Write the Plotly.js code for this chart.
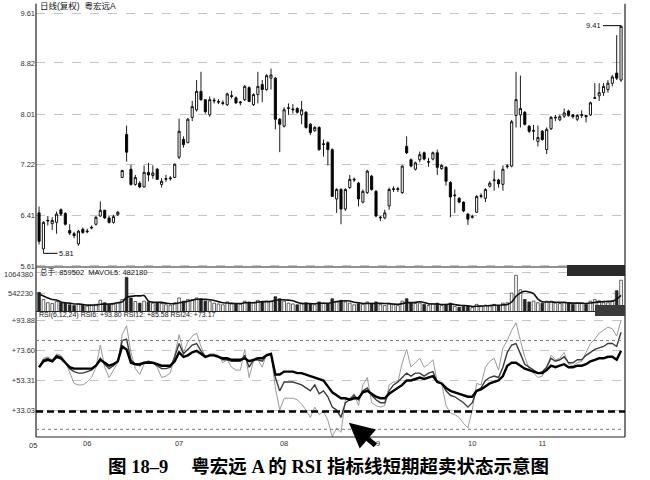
<!DOCTYPE html>
<html><head><meta charset="utf-8">
<script src="https://cdn.plot.ly/plotly-3.0.1.min.js"></script>
<style>body{margin:0;background:#fff}</style>
</head><body><div id="chart" style="width:650px;height:480px"></div>
<script>
// ---- data ----
const openP  = [6.45,5.88,6.32,6.28,6.30,6.50,6.44,6.17,6.12,5.96,6.19,6.15,6.21,6.27,6.40,6.49,6.37,6.30,6.42,7.01,
7.69,7.14,6.90,6.92,6.86,7.09,7.04,7.14,6.90,6.98,6.99,7.01,7.33,7.61,7.56,7.96,8.08,8.37,8.24,8.00,
8.22,8.20,8.18,8.16,8.29,8.27,8.19,8.24,8.43,8.16,8.32,8.48,8.40,8.58,8.58,7.93,7.82,8.10,8.08,8.10,
8.00,8.04,7.85,7.75,7.80,7.53,7.56,7.45,6.67,6.82,6.51,6.85,6.97,6.92,6.62,6.77,7.03,6.79,6.37,6.37,
6.56,6.82,6.82,6.77,7.50,7.29,7.14,7.29,7.40,7.25,7.30,7.40,7.15,7.17,6.93,6.72,6.68,6.62,6.43,6.38,
6.46,6.71,6.68,6.87,6.96,6.97,6.90,7.18,7.19,7.99,8.00,8.04,7.82,7.74,7.58,7.74,7.45,7.78,7.95,7.92,
7.98,8.06,8.00,7.93,7.99,7.99,8.00,8.26,8.30,8.35,8.40,8.50,8.66,8.55];
const highP  = [6.55,6.32,6.40,6.38,6.47,6.52,6.46,6.27,6.15,6.18,6.22,6.20,6.25,6.40,6.63,6.50,6.40,6.42,6.48,7.13,
7.83,7.21,7.05,6.95,7.20,7.24,7.20,7.16,7.00,7.05,7.03,7.23,7.94,7.66,7.95,8.22,8.55,8.68,8.25,8.29,
8.27,8.25,8.23,8.35,8.38,8.29,8.22,8.47,8.45,8.34,8.68,8.55,8.64,8.73,8.60,7.95,8.12,8.18,8.17,8.12,
8.22,8.06,7.87,7.82,7.82,7.61,7.58,7.47,6.84,6.84,6.84,7.05,7.01,6.94,6.82,7.13,7.05,6.81,6.40,6.50,
6.85,6.87,6.86,7.20,7.66,7.31,7.26,7.42,7.42,7.32,7.42,7.45,7.22,7.19,6.95,6.82,6.70,6.63,6.45,6.42,
6.73,6.76,6.84,6.95,7.12,6.99,7.20,7.22,7.92,8.68,8.62,8.06,7.84,7.84,7.83,7.76,7.80,7.98,8.00,8.00,
8.10,8.08,8.01,8.01,8.07,8.00,8.21,8.50,8.50,8.50,8.55,8.63,9.26,9.41];
const lowP   = [5.95,5.81,6.25,6.18,6.12,6.40,6.25,6.10,6.05,5.93,6.12,6.13,6.19,6.25,6.39,6.35,6.28,6.28,6.40,7.00,
7.26,6.88,6.88,6.84,6.85,6.95,6.99,6.97,6.85,6.94,6.96,7.00,7.30,7.48,7.55,7.90,8.05,8.22,8.02,7.97,
8.18,8.17,8.15,8.14,8.26,8.17,8.15,8.22,8.20,8.14,8.18,8.20,8.38,8.40,7.77,7.41,7.80,8.00,8.02,8.02,
7.85,7.78,7.68,7.73,7.43,7.34,7.20,6.70,6.45,6.27,6.48,6.83,6.94,6.55,6.60,6.75,6.80,6.38,6.32,6.35,
6.50,6.78,6.78,6.75,7.38,7.17,7.12,7.25,7.28,7.18,7.28,7.05,7.13,6.88,6.38,6.45,6.60,6.46,6.26,6.36,
6.45,6.68,6.62,6.85,6.80,6.85,6.80,7.15,7.17,7.80,7.80,7.83,7.71,7.60,7.50,7.59,7.38,7.76,7.90,7.90,
7.95,7.97,7.94,7.90,7.95,7.88,7.98,8.25,8.22,8.30,8.35,8.45,8.55,8.52];
const closeP = [6.00,6.30,6.33,6.33,6.43,6.43,6.27,6.13,6.09,6.16,6.14,6.16,6.22,6.38,6.49,6.37,6.30,6.39,6.46,7.12,
7.41,6.90,7.01,6.86,7.09,7.05,7.08,6.98,6.95,6.99,7.00,7.22,7.74,7.53,7.93,8.13,8.37,8.24,8.05,8.24,
8.23,8.21,8.19,8.33,8.30,8.19,8.20,8.45,8.21,8.32,8.45,8.40,8.62,8.63,7.93,7.85,8.08,8.11,8.09,8.04,
8.08,7.80,7.72,7.80,7.45,7.54,7.45,6.71,6.82,6.51,6.82,6.98,6.98,6.67,6.79,7.11,6.82,6.40,6.38,6.45,
6.82,6.83,6.83,7.19,7.40,7.19,7.24,7.37,7.30,7.26,7.40,7.17,7.20,6.95,6.70,6.73,6.62,6.48,6.35,6.39,
6.71,6.72,6.82,6.92,6.97,6.91,7.14,7.19,7.89,8.24,8.10,7.85,7.74,7.75,7.64,7.61,7.77,7.96,7.96,7.97,
8.03,7.99,7.97,7.99,8.00,7.97,8.19,8.27,8.35,8.45,8.50,8.60,8.58,9.40];
// volume (thousand shares)
const volumeK = [560,380,300,280,330,300,290,250,230,270,240,220,230,260,360,300,260,270,300,380,
930,420,330,290,340,320,290,310,280,250,240,300,420,340,380,380,420,400,340,340,
290,270,250,320,290,280,260,340,320,300,360,320,340,340,450,400,340,290,270,250,
290,300,280,250,320,290,280,400,340,360,320,290,250,280,260,320,290,320,250,230,
290,250,230,340,400,300,280,290,260,230,280,290,230,260,290,210,190,210,230,180,
260,210,240,230,260,230,290,300,540,980,620,380,320,340,300,290,340,340,290,280,
320,300,260,290,280,260,340,380,350,300,300,350,600,859.502];
const mavol5K = [520,470,420,380,370,318,296,290,270,268,256,242,240,244,262,266,270,278,298,322,
432,460,472,470,480,340,314,310,308,290,276,276,300,312,336,364,388,384,384,376,
358,328,298,294,284,282,280,298,300,300,316,328,328,332,362,374,374,364,350,310,
280,282,278,274,288,288,284,308,326,340,350,342,314,300,282,284,280,286,284,282,
276,268,264,278,302,304,310,324,306,272,268,270,258,258,270,256,236,232,226,206,
214,216,224,228,242,236,246,256,318,462,546,584,568,528,392,326,318,318,312,310,
306,298,290,290,290,282,292,310,322,328,336,336,390,482.18];
const rsi6 = [62,68,69,67,71,70,66,58,51,50,50,52,55,62,77,62,55,60,65,84,
90,72,61,57,64,66,65,62,55,56,58,70,84,72,79,83,85,76,69,71,
71,70,65,67,62,60,60,74,55,66,67,62,71,71,48,33,41,41,41,40,
37,33,28,35,30,32,26,15,21,18,40,41,44,36,50,55,38,36,35,36,
50,52,52,65,74,62,65,68,62,64,67,52,51,36,31,30,28,24,21,33,
51,50,62,66,68,60,75,80,87,92,80,69,61,58,55,56,62,70,67,68,
72,64,63,65,66,72,78,81,85,87,89,88,83,93.80];
const rsi12 = [62,67,68,66,70,69,65,61,59,58,58,59,60,63,68,64,61,63,66,80,
81,67,64,63,65,66,65,63,61,61,62,69,78,71,74,77,78,73,69,70,
70,69,67,67,66,66,66,70,62,67,67,66,70,71,55,46,52,52,52,51,
50,48,46,50,44,46,42,35,33,28,38,40,43,40,46,48,43,40,38,38,
46,50,52,55,58,56,58,58,56,58,59,52,51,46,43,42,40,38,35,38,
46,48,53,55,56,55,62,72,77,78,71,64,62,60,58,59,62,68,66,67,
69,65,65,67,67,70,72,74,75,76,78,78,76,85.58];
const rsi24 = [62,66,67,66,69,68,65,62,61,61,61,61,61,63,67,65,63,64,66,76,
74,65,64,64,65,65,65,64,63,63,63,66,72,69,70,72,73,71,69,70,
70,69,68,68,67,67,67,68,66,67,68,68,70,71,57,57,59,59,59,58,
58,57,56,55,54,53,49,45,43,41,41,40,41,41,45,46,44,42,41,41,
44,46,48,50,53,53,54,55,54,55,56,52,51,48,46,45,44,43,42,42,
46,47,49,51,52,53,56,63,65,65,63,61,60,59,58,58,60,63,62,63,
64,62,62,63,63,64,66,67,68,68,69,69,67,73.17];
const monthTickIdx = [11, 32, 56, 77, 99, 115];
const monthLabels  = ['06','07','08','09','10','11'];
const priceTicks = [5.61, 6.41, 7.22, 8.01, 8.82, 9.61];
const volTicks   = [542230, 1064380];
const rsiTicks   = [33.03, 53.31, 73.60, 93.88];

// ---- build ----
const idx = openP.map((_, i) => i);
const up = closeP.map((c, i) => c >= openP[i]);
const volume = volumeK.map(v => v * 1000);
const mavol5 = mavol5K.map(v => v * 1000);
const SANS = 'Liberation Sans, Arial, sans-serif';
const CJK = 'Liberation Sans, Noto Sans CJK SC, sans-serif';

const traces = [
  { type: 'candlestick', x: idx, open: openP, high: highP, low: lowP, close: closeP,
    xaxis: 'x', yaxis: 'y', whiskerwidth: 0,
    increasing: { line: { color: '#000', width: 0.9 }, fillcolor: '#fff' },
    decreasing: { line: { color: '#000', width: 0.9 }, fillcolor: '#000' },
    hoverinfo: 'skip', showlegend: false },
  { type: 'bar', x: idx, y: volume, xaxis: 'x', yaxis: 'y2', width: 0.62,
    marker: { color: up.map(u => u ? '#fff' : '#222'), line: { color: '#222', width: 0.7 } },
    hoverinfo: 'skip', showlegend: false },
  { type: 'scatter', mode: 'lines', x: idx, y: mavol5, xaxis: 'x', yaxis: 'y2',
    line: { color: '#111', width: 1.6, shape: 'spline', smoothing: 0.8 }, hoverinfo: 'skip', showlegend: false },
  { type: 'scatter', mode: 'lines', x: idx, y: rsi6, xaxis: 'x', yaxis: 'y3',
    line: { color: '#9a9a9a', width: 1 }, hoverinfo: 'skip', showlegend: false },
  { type: 'scatter', mode: 'lines', x: idx, y: rsi12, xaxis: 'x', yaxis: 'y3',
    line: { color: '#3a3a3a', width: 1.4 }, hoverinfo: 'skip', showlegend: false },
  { type: 'scatter', mode: 'lines', x: idx, y: rsi24, xaxis: 'x', yaxis: 'y3',
    line: { color: '#000', width: 2.4 }, hoverinfo: 'skip', showlegend: false }
];

const tickFont = { family: SANS, size: 7.5, color: '#333' };
const gridCommon = { showgrid: true, gridcolor: '#c4c4c4', griddash: 'dash', gridwidth: 1,
  zeroline: false, showline: false, ticks: '', tickfont: tickFont, fixedrange: true };

// panel pixel layout: plot top 8, bottom 437 (height 429)
const H = 429;
const py = p => (437 - p) / H;
const px = p => (p - 36) / 589;

const layout = {
  width: 650, height: 480,
  margin: { l: 36, r: 25, t: 8, b: 43 },
  paper_bgcolor: '#fff', plot_bgcolor: '#fff',
  showlegend: false,
  xaxis: { range: [-0.7, 133.9], anchor: 'y3', tickvals: monthTickIdx, ticktext: monthLabels,
    showgrid: false, zeroline: false, showline: false, ticks: '', tickfont: tickFont,
    rangeslider: { visible: false }, fixedrange: true },
  yaxis: Object.assign({ domain: [py(267), 1], range: [5.594, 9.689],
    tickvals: priceTicks, ticktext: priceTicks.map(v => v.toFixed(2)) }, gridCommon),
  yaxis2: Object.assign({ domain: [py(311), py(268)], range: [94750, 1163800],
    tickvals: volTicks, showticklabels: false }, gridCommon),
  yaxis3: Object.assign({ domain: [0, py(312)], range: [14.8, 99.3],
    tickvals: rsiTicks, ticktext: rsiTicks.map(v => '+' + v.toFixed(2)) }, gridCommon),
  shapes: [
    { type: 'line', xref: 'paper', yref: 'paper', x0: 0, x1: 0, y0: 0, y1: 1.01, line: { color: '#222', width: 1.2 } },
    { type: 'line', xref: 'paper', yref: 'paper', x0: 1, x1: 1, y0: 0, y1: 1.01, line: { color: '#222', width: 1.2 } },
    { type: 'line', xref: 'paper', yref: 'paper', x0: 0, x1: 1, y0: py(267), y1: py(267), line: { color: '#222', width: 1 } },
    { type: 'line', xref: 'paper', yref: 'paper', x0: 0, x1: 1, y0: py(311.5), y1: py(311.5), line: { color: '#222', width: 1 } },
    { type: 'line', xref: 'paper', yref: 'paper', x0: 0, x1: 1, y0: 0, y1: 0, line: { color: '#222', width: 1.2 } },
    { type: 'line', xref: 'paper', yref: 'y3', x0: 0, x1: 1, y0: 80, y1: 80, line: { color: '#777', width: 1, dash: 'dot' } },
    { type: 'line', xref: 'paper', yref: 'y3', x0: 0, x1: 1, y0: 20, y1: 20, line: { color: '#777', width: 1, dash: 'dot' } },
    { type: 'line', xref: 'paper', yref: 'y3', x0: 0, x1: 1, y0: 32, y1: 32, line: { color: '#000', width: 2.6, dash: '7px,4px' } },
    // dark tag boxes of the trading software
    { type: 'rect', xref: 'paper', yref: 'paper', x0: px(567), x1: 1, y0: py(276), y1: py(265), fillcolor: '#2a2a2a', line: { width: 0 } },
    { type: 'rect', xref: 'paper', yref: 'paper', x0: px(595), x1: 1, y0: py(316), y1: py(305), fillcolor: '#3a3a3a', line: { width: 0 } }
  ],
  annotations: [
    { xref: 'paper', yref: 'paper', x: 0.004, y: py(6), xanchor: 'left', yanchor: 'middle', showarrow: false,
      text: '日线(复权)  粤宏远A', font: { family: CJK, size: 8.5, color: '#111' } },
    { xref: 'paper', yref: 'paper', x: 0.003, y: py(271.5), xanchor: 'left', yanchor: 'middle', showarrow: false,
      text: '总手: 859502  MAVOL5: 482180', font: { family: CJK, size: 7.5, color: '#111' } },
    { xref: 'paper', yref: 'paper', x: 0.001, y: py(315), xanchor: 'left', yanchor: 'middle', showarrow: false,
      text: 'RSI(6,12,24) RSI6: +93.80 RSI12: +85.58 RSI24: +73.17', font: { family: SANS, size: 7, color: '#111' } },
    { xref: 'paper', yref: 'paper', x: px(35), y: py(274), xanchor: 'right', yanchor: 'middle', showarrow: false,
      text: '1064380', font: { family: SANS, size: 7.5, color: '#333' } },
    { xref: 'paper', yref: 'paper', x: px(35), y: py(293), xanchor: 'right', yanchor: 'middle', showarrow: false,
      text: '542230', font: { family: SANS, size: 7.5, color: '#333' } },
    { xref: 'paper', yref: 'paper', x: px(33), y: py(445), xanchor: 'center', yanchor: 'middle', showarrow: false,
      text: '05', font: tickFont },
    { xref: 'x', yref: 'y', x: 1, y: 5.81, ax: 14, ay: 0, showarrow: true, arrowhead: 0, arrowwidth: 1, arrowcolor: '#000',
      xanchor: 'left', text: '5.81', font: { family: SANS, size: 7.5, color: '#111' } },
    { xref: 'x', yref: 'y', x: 133, y: 9.41, ax: -18, ay: 0, showarrow: true, arrowhead: 0, arrowwidth: 1, arrowcolor: '#000',
      xanchor: 'right', text: '9.41', font: { family: SANS, size: 7.5, color: '#111' } },
    { xref: 'x', yref: 'y3', x: 70.8, y: 24.5, ax: 28, ay: 24, showarrow: true, arrowhead: 2, arrowsize: 1,
      arrowwidth: 5, arrowcolor: '#000', text: '' },
    { xref: 'paper', yref: 'paper', x: px(328), y: py(466), xanchor: 'center', yanchor: 'middle', showarrow: false,
      text: '<b>图 18–9　 粤宏远 A 的 RSI 指标线短期超卖状态示意图</b>',
      font: { family: 'Liberation Serif, Noto Sans CJK SC, serif', size: 18.5, color: '#000' } }
  ]
};

Plotly.newPlot('chart', traces, layout, { staticPlot: true, displayModeBar: false });
</script>
</body></html>
